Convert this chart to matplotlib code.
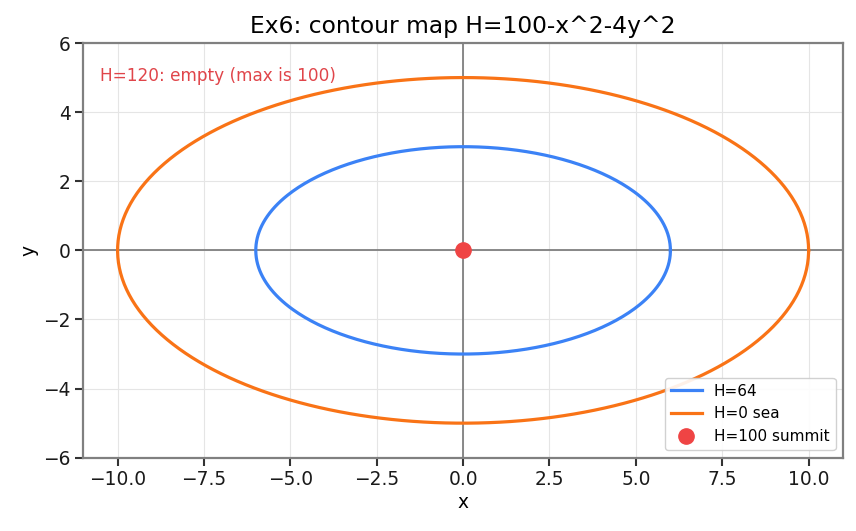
import numpy as np
import matplotlib
matplotlib.use('Agg')
import matplotlib.pyplot as plt

# contour levels of H = 100 - x^2 - 4y^2
peak = 100
levels = [64, 0]
level_labels = ['H=64', 'H=0 sea']
level_colors = ['#3b82f6', '#f97316']
summit_xy = (0, 0)
empty_note = 'H=120: empty (max is 100)'

fig = plt.figure(figsize=(8.56, 5.31), dpi=100)
ax = fig.add_axes([0.097, 0.138, 0.888, 0.781])

t = np.linspace(0, 2*np.pi, 400)
for lvl, lab, col in zip(levels, level_labels, level_colors):
    a = np.sqrt(peak - lvl)          # semi-axis along x
    b = a/2                          # semi-axis along y
    ax.plot(a*np.cos(t), b*np.sin(t), color=col, lw=2.3, label=lab, zorder=3)

ax.plot(*summit_xy, 'o', color='#ef4444', ms=11, label='H=100 summit', zorder=4)

ax.axhline(0, color='#808080', lw=1.3, zorder=2)
ax.axvline(0, color='#808080', lw=1.3, zorder=2)

ax.text(-10.5, 5.05, empty_note, color='#e0454a', fontsize=12.2, va='center')

ax.set_xlim(-11, 11)
ax.set_ylim(-6, 6)
ax.set_xticks(np.arange(-10, 10.1, 2.5))
ax.set_yticks(np.arange(-6, 6.1, 2))
ax.grid(True, color='#e5e5e5', lw=0.8)
ax.set_axisbelow(True)
for s in ax.spines.values():
    s.set_color('#808080')
    s.set_linewidth(1.6)
ax.tick_params(colors='#333333', labelcolor='#1a1a1a', labelsize=13.4, width=1.5, length=5.5)
ax.set_xlabel('x', fontsize=13.4, labelpad=3)
ax.set_ylabel('y', fontsize=13.4, labelpad=3)
ax.set_title('Ex6: contour map H=100-x^2-4y^2', fontsize=16.8, pad=7)
ax.legend(loc='lower right', fontsize=11, framealpha=0.9)

fig.savefig('out.png', dpi=100)
